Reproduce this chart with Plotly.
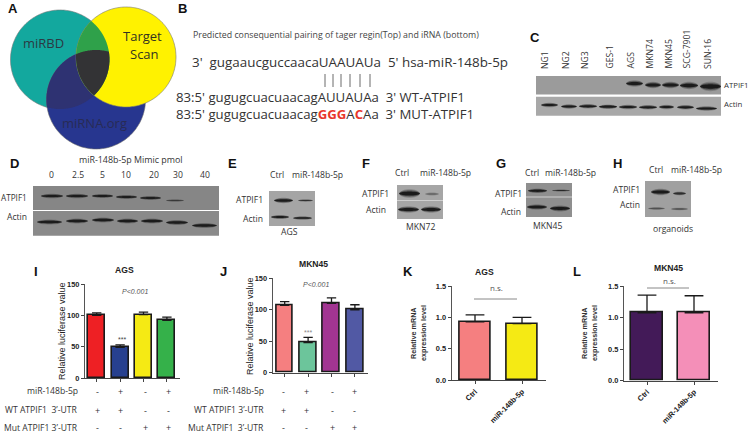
import numpy as np
import plotly.graph_objects as go

W, H = 750, 434
SANS = "Open Sans"
ARIAL = "Liberation Sans"

# ---- bar data
I_vals = [100, 49, 101, 92]
I_errs = [4, 4, 4, 5]
I_cols = ["#ee2024", "#27408f", "#f5ea14", "#35b14a"]
J_vals = [107, 48, 110, 100]
J_errs = [6, 8, 9, 8]
J_cols = ["#f57f80", "#6cc59b", "#a23592", "#5159a4"]
K_vals = [0.93, 0.90]
K_errs = [0.11, 0.10]
K_cols = ["#f57f80", "#f5ea14"]
L_vals = [1.08, 1.08]
L_errs = [0.28, 0.27]
L_cols = ["#431a58", "#f48fb8"]
K_cats = ["Ctrl", "miR-148b-5p"]
row_labels_I = ["miR-148b-5p", "WT ATPIF1  3’-UTR", "Mut ATPIF1 3’-UTR"]
row_labels_J = ["miR-148b-5p", "WT ATPIF1 3’-UTR", "Mut ATPIF1  3’-UTR"]
row_signs = [["-", "+", "-", "+"], ["+", "+", "-", "-"], ["-", "-", "+", "+"]]
C_lanes = ["NG1", "NG2", "NG3", "GES-1", "AGS", "MKN74", "MKN45", "SCG-7901", "SUN-16"]
D_doses = ["0", "2.5", "5", "10", "20", "30", "40"]

LAB = 8.6

fig = go.Figure()
shapes, notes = [], []


def text(x, y, s, size=9, color="#333333", font=SANS, xa="center", ya="middle", angle=0):
    notes.append(dict(x=x / W, y=1 - y / H, xref="paper", yref="paper", text=s, showarrow=False,
                      xanchor=xa, yanchor=ya, textangle=angle, borderpad=0, borderwidth=0,
                      font=dict(size=size, color=color, family=font)))


def path(d, fill, line="rgba(0,0,0,0)", width=0, opacity=1):
    shapes.append(dict(type="path", path=d, xref="x5", yref="y5", fillcolor=fill, opacity=opacity,
                       line=dict(color=line, width=width), layer="below"))


def rect(x0, y0, x1, y1, fill):
    shapes.append(dict(type="rect", x0=x0, x1=x1, y0=y0, y1=y1, xref="x5", yref="y5", fillcolor=fill,
                       line=dict(width=0), layer="below"))


def band(x0, x1, y, th, col="#181818", op=1.0):
    th = th * 0.8
    for k, o in ((1.7, 0.22), (1.25, 0.4), (0.8, 0.95)):
        t = th * k
        d = (f"M{x0},{y} C{x0+2},{y-t*0.65} {x1-2},{y-t*0.65} {x1},{y} "
             f"C{x1-2},{y+t*0.65} {x0+2},{y+t*0.65} {x0},{y} Z")
        path(d, col, opacity=o * op)


# ---- Venn
T_c = (60, 59.5, 49.5)
Y_c = (126, 57, 50)
B_c = (96, 99.5, 49.5)


def inside(px, py, c):
    return (px - c[0]) ** 2 + (py - c[1]) ** 2 <= c[2] ** 2 + 1e-6


def lens(*cs):
    pts = []
    for i, c in enumerate(cs):
        a = np.linspace(0, 2 * np.pi, 720)
        xs, ys = c[0] + c[2] * np.cos(a), c[1] + c[2] * np.sin(a)
        m = np.ones_like(xs, bool)
        for j, o in enumerate(cs):
            if j != i:
                m &= inside(xs, ys, o)
        pts.append(np.c_[xs[m], ys[m]])
    p = np.vstack(pts)
    cen = p.mean(0)
    p = p[np.argsort(np.arctan2(p[:, 1] - cen[1], p[:, 0] - cen[0]))]
    return "M" + " L".join(f"{a:.1f},{b:.1f}" for a, b in p) + " Z"


def circ(c):
    a = np.linspace(0, 2 * np.pi, 240)
    return "M" + " L".join(f"{c[0]+c[2]*np.cos(t):.1f},{c[1]+c[2]*np.sin(t):.1f}" for t in a) + " Z"


path(circ(T_c), "#13a89e", "#777777", 0.6)
path(circ(B_c), "#27368f", "#666666", 0.6)
path(lens(T_c, B_c), "#2e3272")
path(circ(Y_c), "#fff200", "#777777", 0.6)
path(lens(T_c, Y_c), "#2fa14a")
path(lens(T_c, Y_c, B_c), "#333335")
text(43, 43, "miRBD", 13, "#2b3a44")
text(142, 36, "Target", 13, "#333320")
text(144, 54, "Scan", 13, "#333320")
text(94, 123, "miRNA.org", 13, "#272b55")

# ---- Panel letters
for s, x, y in [("A", 13, 9), ("B", 182, 9), ("C", 535, 37), ("D", 14, 163), ("E", 233, 163),
                ("F", 366, 163), ("G", 501, 163), ("H", 617, 163), ("I", 36, 271), ("J", 223, 271),
                ("K", 408, 271), ("L", 577, 271)]:
    text(x, y, f"<b>{s}</b>", 13, "#111111", ARIAL)

# ---- Panel B
text(193, 35, "Predicted consequential pairing of tager regin(Top) and iRNA (bottom)", 8.8, "#444444", xa="left")
text(192, 62, "3'  gugaaucguccaacaUAAUAUa  5' hsa-miR-148b-5p", 13.4, xa="left")
text(176, 97, "83:5' gugugcuacuaacagAUUAUAa  3' WT-ATPIF1", 13.2, xa="left")
red = '<span style="color:#e8372c"><b>%s</b></span>'
text(176, 114, "83:5' gugugcuacuaacag" + red % "GGG" + "A" + red % "C" + "Aa  3' MUT-ATPIF1", 13.2, xa="left")
for x in [325, 333, 341, 350, 360, 370]:
    shapes.append(dict(type="line", x0=x, x1=x, y0=74, y1=87, xref="x5", yref="y5",
                       line=dict(color="#444444", width=0.8)))

# ---- Panel C
for s, x in zip(C_lanes, [545, 566, 585, 609, 630, 649, 668, 686, 708]):
    text(x, 69, s, LAB, "#333333", ya="bottom", angle=-90)
rect(536, 76, 721, 94.5, "#9b9b9b")
rect(536, 96.8, 721, 115.8, "#a8a8a8")
for a, b, y, t in [(626, 643, 83.5, 5), (645, 661, 85, 5), (662, 679, 85, 5), (680, 698, 85.5, 5.5), (700, 721, 86.5, 7)]:
    band(a, b, y, t)
for a, b, y in [(541, 558, 105), (561, 577, 106.5), (579, 597, 106.3), (599, 617, 106.7), (619, 637, 107),
                (639, 657, 107.3), (659, 674, 107), (677, 694, 107.3), (696, 717, 108.5)]:
    band(a, b, y, 3.5)
text(724, 85, "ATPIF1", 7.8, xa="left")
text(724, 104, "Actin", 7.8, xa="left")

# ---- Panel D
text(131, 160, "miR-148b-5p Mimic pmol", 8.9)
for s, x in zip(D_doses, [51, 78, 102, 126, 154, 178, 205]):
    text(x, 175, s, LAB)
rect(33, 186, 219, 210, "#868686")
rect(33, 211, 219, 235.7, "#8a8a8a")
for a, b, y, t, o in [(41, 63, 196, 3.5, 1), (66, 88, 196, 3.5, 1), (92, 113, 196, 3, 1), (116, 137, 197, 3, 0.95),
                      (140, 161, 198, 3, 0.95), (166, 184, 200.5, 2, 0.6)]:
    band(a, b, y, t, op=o)
for a, b, y in [(37, 62, 222), (66, 88, 221), (92, 114, 220), (117, 138, 221), (141, 163, 221), (166, 188, 222.5), (192, 217, 225.5)]:
    band(a, b, y, 3.8)
text(27, 197, "ATPIF1", 8.2, xa="right")
text(27, 217, "Actin", LAB, xa="right")

# ---- Panels E-H
for c, y, x0, x1, y0, y1, ll, ly, al, ay, lab, lx, lab_y, bands, bg, split in [
    (277, 175, 269, 315, 191, 226, 263, 199.5, 263, 219, "AGS", 289, 232,
     [(274, 293, 200.5, 4, 1), (298, 313, 200.5, 1.8, 0.75), (271, 289, 217, 3.2, 1), (293, 312, 218, 2.8, 1)], "#a5a5a5", None),
    (402, 173, 397, 443, 185, 219, 389, 194, 386, 210, "MKN72", 420, 227,
     [(399, 420, 193.5, 6.5, 1), (425, 439, 194, 2.5, 0.35), (398, 419, 209.5, 5, 1), (421, 441, 209.5, 5, 1)], "#a6a6a6", 200.5),
    (532, 173, 526, 572, 183, 217, 522, 194, 521, 212, "MKN45", 547, 226,
     [(528, 547, 190.8, 3.5, 1), (552, 570, 190.5, 1.6, 0.8), (527, 547, 207, 4.2, 1), (550, 570, 208.5, 4.5, 1)], "#8f8f8f", 197),
    (656, 170, 645, 691, 181, 217, 640, 190, 640, 205, "organoids", 673, 229,
     [(651, 670, 192, 5, 1), (673, 686, 193.5, 3, 0.75), (648, 665, 208.5, 2.2, 0.45), (671, 688, 209, 2.2, 0.45)], "#a0a0a0", None),
]:
    text(c, y, "Ctrl", LAB)
    rect(x0, y0, x1, y1, bg)
    if split:
        shapes.append(dict(type="line", x0=x0, x1=x1, y0=split, y1=split, xref="x5", yref="y5",
                           line=dict(color="#cfcfcf", width=1), layer="below"))
    for a, b, yy, t, o in bands:
        band(a, b, yy, t, op=o)
    text(ll, ly, "ATPIF1", LAB, xa="right")
    text(al, ay, "Actin", LAB, xa="right")
    text(lx, lab_y, lab, LAB)
for x, y in [(317, 175), (445, 173), (570, 173), (696, 170)]:
    text(x, y, "miR-148b-5p", LAB)


# ---- Bar panels
def bars(idx, xs, vals, errs, cols, px0, px1, py_top, py_bot, rng, ticks, ticktext, cats=None, spacing=None, first=None, bw=0.72):
    ax = "" if idx == 1 else str(idx)
    fig.add_trace(go.Bar(x=xs, y=vals, xaxis=f"x{ax}", yaxis=f"y{ax}", width=bw, showlegend=False,
                         marker=dict(color=cols, line=dict(color="#1a1a1a", width=1.6)),
                         error_y=dict(type="data", array=errs, symmetric=False, arrayminus=[0] * len(errs),
                                      color="#1a1a1a", thickness=1.3, width=spacing * 0.2)))
    lo = -(first - px0) / spacing
    hi = lo + (px1 - px0) / spacing
    fig.update_layout({
        f"xaxis{ax}": dict(domain=[px0 / W, px1 / W], range=[lo, hi], anchor=f"y{ax}", showgrid=False, zeroline=False,
                           automargin=False,
                           showline=True, linecolor="#444444", linewidth=1.3, ticks="outside", ticklen=3, tickwidth=1.2,
                           tickcolor="#444444", tickvals=xs, ticktext=cats or [""] * len(xs), tickangle=-45,
                           tickfont=dict(size=7.4, family=ARIAL, color="#222222", weight="bold")),
        f"yaxis{ax}": dict(domain=[1 - py_bot / H, 1 - py_top / H], range=rng, anchor=f"x{ax}", showgrid=False, zeroline=False,
                           automargin=False,
                           showline=True, linecolor="#555555", linewidth=1.3, ticks="outside", ticklen=3, tickwidth=1.2,
                           tickcolor="#444444", tickvals=ticks, ticktext=ticktext,
                           tickfont=dict(size=7.4, family=ARIAL, color="#222222", weight="bold")),
    })


t150 = [0, 50, 100, 150]
t15 = [0, 0.5, 1.0, 1.5]
bars(1, [0, 1, 2, 3], I_vals, I_errs, I_cols, 85, 180, 284, 378, [0, 150], t150, [str(v) for v in t150], spacing=23.4, first=96.7)
bars(2, [0, 1, 2, 3], J_vals, J_errs, J_cols, 272.7, 367.7, 278.3, 372.7, [0, 150], t150, [str(v) for v in t150], spacing=23.4, first=284.7)
bars(3, [0, 1], K_vals, K_errs, K_cols, 451.7, 546, 286, 380.3, [0, 1.5], t15, [f"{v:.1f}" for v in t15], cats=K_cats, spacing=47, first=475, bw=0.66)
bars(4, [0, 1], L_vals, L_errs, L_cols, 624, 718, 286.3, 380.7, [0, 1.5], t15, [f"{v:.1f}" for v in t15], cats=K_cats, spacing=47, first=647, bw=0.66)

text(62, 331, "Relative luciferase value", 9, "#222222", ARIAL, angle=-90)
text(250, 326, "Relative luciferase value", 9, "#222222", ARIAL, angle=-90)
for x, s in [(413, "Relative mRNA"), (423, "expression level"), (584, "Relative mRNA"), (594, "expression level")]:
    text(x, 333, f"<b>{s}</b>", 7.2, "#333333", ARIAL, angle=-90)
text(124, 270, "<b>AGS</b>", 8.6, "#222222", ARIAL)
text(313, 264, "<b>MKN45</b>", 8.6, "#222222", ARIAL)
text(484, 272, "<b>AGS</b>", 8.6, "#222222", ARIAL)
text(668, 268, "<b>MKN45</b>", 8.6, "#222222", ARIAL)
text(135, 291, "<i>P<0.001</i>", 7, "#555555", ARIAL)
text(316, 284, "<i>P<0.001</i>", 7, "#555555", ARIAL)
text(122, 339, "***", 7, "#444444", ARIAL)
text(308, 332, "***", 7, "#888888", ARIAL)
text(496, 287, "n.s.", 8, "#555555")
text(669, 280, "n.s.", 8, "#555555")
for a, b, y in [(474, 517, 299), (647, 689, 288)]:
    shapes.append(dict(type="line", x0=a, x1=b, y0=y, y1=y, xref="x5", yref="y5", line=dict(color="#888888", width=1)))

for labels, lx, cols, ys in [(row_labels_I, 78, [97, 120, 145, 168], [391, 410, 427.5]),
                             (row_labels_J, 264, [283, 306, 332, 354], [391, 410, 427.5])]:
    for lab, signs, y in zip(labels, row_signs, ys):
        text(lx, y, lab, LAB, "#333333", xa="right")
        for s, x in zip(signs, cols):
            text(x, y, s, 9, "#333333")

# overlay pixel axes used by the drawn diagram parts
fig.add_trace(go.Scatter(x=[0], y=[0], xaxis="x5", yaxis="y5", mode="markers", marker=dict(opacity=0), showlegend=False, hoverinfo="skip"))
fig.update_layout(
    xaxis5=dict(domain=[0, 1], range=[0, W], visible=False, anchor="y5", automargin=False),
    yaxis5=dict(domain=[0, 1], range=[H, 0], visible=False, anchor="x5", automargin=False),
    width=W, height=H, margin=dict(l=0, r=0, t=0, b=0, pad=0, autoexpand=False), paper_bgcolor="white", plot_bgcolor="rgba(0,0,0,0)",
    shapes=shapes, annotations=notes, showlegend=False, bargap=0,
)
fig.write_html("out.html", config={"displayModeBar": False},
               post_script="document.body.style.margin='0';document.documentElement.style.overflow='hidden';")
